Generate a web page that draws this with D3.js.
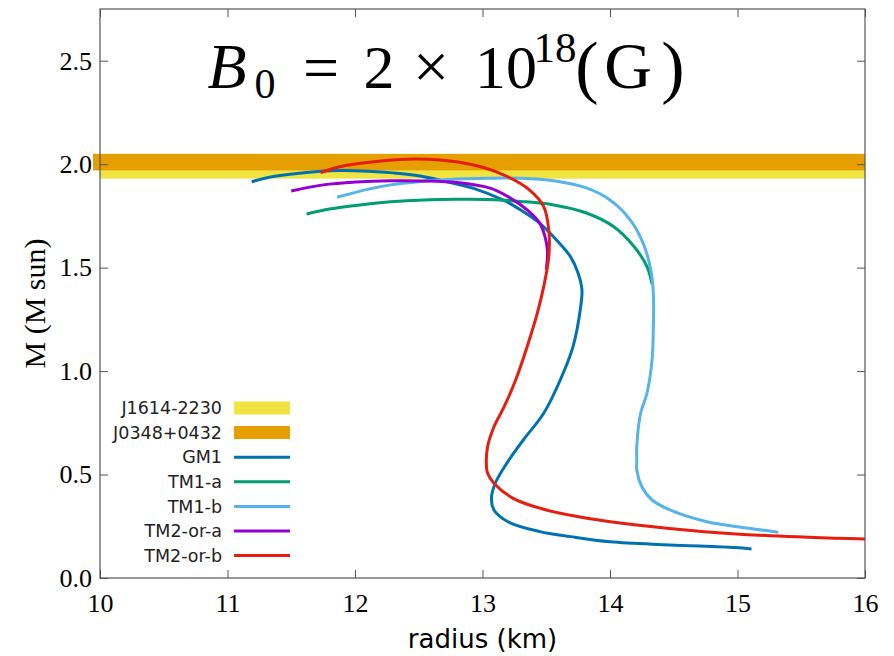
<!DOCTYPE html>
<html>
<head>
<meta charset="utf-8">
<script src="https://cdn.jsdelivr.net/npm/d3@7"></script>
<style>
  body { margin: 0; background: #fff; }
</style>
</head>
<body>
<div id="chart"></div>
<script>
// mass-radius curves, B0 = 2e18 G
var gm1R = [15.11, 14.98, 14.47, 14.0, 13.69, 13.45, 13.2, 13.09, 13.07, 13.1, 13.19, 13.32, 13.48, 13.61, 13.71, 13.77, 13.78, 13.75, 13.69, 13.58, 13.45, 13.3, 13.16, 12.93, 12.77, 12.51, 12.3, 12.1, 11.88, 11.62, 11.36, 11.19];
var gm1M = [0.14, 0.147, 0.16, 0.175, 0.2, 0.224, 0.272, 0.329, 0.385, 0.458, 0.554, 0.667, 0.796, 0.957, 1.118, 1.311, 1.392, 1.473, 1.553, 1.634, 1.714, 1.779, 1.827, 1.883, 1.908, 1.943, 1.958, 1.966, 1.969, 1.96, 1.94, 1.915];

var tm1aR = [14.33, 14.29, 14.19, 14.03, 13.82, 13.56, 13.3, 13.05, 12.8, 12.54, 12.28, 12.02, 11.8, 11.62];
var tm1aM = [1.42, 1.505, 1.601, 1.698, 1.763, 1.803, 1.82, 1.829, 1.83, 1.827, 1.818, 1.802, 1.783, 1.759];

var tm1bR = [15.32, 15.0, 14.76, 14.47, 14.33, 14.25, 14.21, 14.21, 14.21, 14.24, 14.29, 14.33, 14.34, 14.34, 14.32, 14.26, 14.16, 14.0, 13.82, 13.56, 13.3, 13.04, 12.8, 12.54, 12.28, 12.08, 11.86];
var tm1bM = [0.221, 0.248, 0.272, 0.329, 0.377, 0.441, 0.522, 0.57, 0.635, 0.796, 0.893, 1.054, 1.215, 1.376, 1.489, 1.618, 1.73, 1.827, 1.884, 1.92, 1.932, 1.932, 1.928, 1.918, 1.9, 1.876, 1.84];

var tm2aR = [13.5, 13.51, 13.49, 13.45, 13.35, 13.2, 13.06, 12.8, 12.54, 12.28, 12.01, 11.75, 11.5];
var tm2aM = [1.49, 1.58, 1.65, 1.714, 1.779, 1.843, 1.884, 1.911, 1.919, 1.92, 1.914, 1.9, 1.87];

var tm2bR = [16.0, 15.26, 14.74, 14.21, 13.82, 13.48, 13.24, 13.09, 13.04, 13.03, 13.04, 13.09, 13.17, 13.26, 13.35, 13.43, 13.48, 13.52, 13.52, 13.48, 13.37, 13.16, 12.93, 12.67, 12.41, 12.15, 11.88, 11.73];
var tm2bM = [0.188, 0.204, 0.224, 0.256, 0.289, 0.332, 0.385, 0.458, 0.506, 0.554, 0.635, 0.731, 0.828, 0.957, 1.118, 1.28, 1.408, 1.553, 1.682, 1.795, 1.875, 1.95, 1.996, 2.02, 2.024, 2.012, 1.988, 1.959];

// pulsar mass bands [low, high]
var j1614Band = [1.93, 2.01];
var j0348Band = [1.97, 2.05];

var xTicks = [10, 11, 12, 13, 14, 15, 16];
var yTicks = [0.0, 0.5, 1.0, 1.5, 2.0, 2.5];

var seriesNames = ["GM1", "TM1-a", "TM1-b", "TM2-or-a", "TM2-or-b"];
var seriesColors = ["#0072b2", "#009e73", "#56b4e9", "#9400d3", "#e51e10"];
var bandNames = ["J1614-2230", "J0348+0432"];
var bandColors = ["#f0e442", "#e69f00"];

var curves = [
  [gm1R, gm1M],
  [tm1aR, tm1aM],
  [tm1bR, tm1bM],
  [tm2aR, tm2aM],
  [tm2bR, tm2bM]
];

var W = 894, H = 656;
var margin = { top: 9, right: 29, bottom: 78, left: 100 },
  width = W - margin.left - margin.right,
  height = H - margin.top - margin.bottom;

var svg = d3
  .select("#chart")
  .append("svg")
  .attr("width", W)
  .attr("height", H);

var g = svg
  .append("g")
  .attr("transform", "translate(" + margin.left + "," + margin.top + ")");

var x = d3.scaleLinear().domain([10, 16]).range([0, width]);
var y = d3.scaleLinear().domain([0, 2.75]).range([height, 0]);

g.append("clipPath")
  .attr("id", "clip")
  .append("rect")
  .attr("width", width)
  .attr("height", height);

// bands (orange sticks out a bit past the left border, like the original)
g.append("rect")
  .attr("x", x(10))
  .attr("width", x(16) - x(10))
  .attr("y", y(j1614Band[1]))
  .attr("height", y(j1614Band[0]) - y(j1614Band[1]))
  .attr("fill", bandColors[0]);

g.append("rect")
  .attr("x", x(9.945))
  .attr("width", x(16) - x(9.945))
  .attr("y", y(j0348Band[1]))
  .attr("height", y(j0348Band[0]) - y(j0348Band[1]))
  .attr("fill", bandColors[1]);

// curves
var line = d3
  .line()
  .x(function (d) { return x(d[0]); })
  .y(function (d) { return y(d[1]); })
  .curve(d3.curveCatmullRom.alpha(0.5));

var lines = g.append("g").attr("clip-path", "url(#clip)");
curves.forEach(function (c, i) {
  var pts = c[0].map(function (r, k) { return [r, c[1][k]]; });
  lines
    .append("path")
    .datum(pts)
    .attr("d", line)
    .attr("fill", "none")
    .attr("stroke", seriesColors[i])
    .attr("stroke-width", 3)
    .attr("stroke-linejoin", "round");
});

// axes, gnuplot style: ticks inside, mirrored
var axisColor = "#555";
function styleAxis(sel) {
  sel.select(".domain").remove();
  sel.selectAll(".tick line").attr("stroke", axisColor);
  sel.selectAll(".tick text")
    .attr("fill", "#000")
    .attr("font-family", "Liberation Serif, serif")
    .attr("font-size", 26);
}

g.append("g")
  .attr("transform", "translate(0," + height + ")")
  .call(d3.axisBottom(x).tickValues(xTicks).tickFormat(d3.format("d")).tickSizeInner(-8).tickSizeOuter(0).tickPadding(16))
  .call(styleAxis);

g.append("g")
  .call(d3.axisTop(x).tickValues(xTicks).tickFormat("").tickSizeInner(-8).tickSizeOuter(0))
  .call(styleAxis);

g.append("g")
  .call(d3.axisLeft(y).tickValues(yTicks).tickFormat(d3.format(".1f")).tickSizeInner(-8).tickSizeOuter(0).tickPadding(8))
  .call(styleAxis);

g.append("g")
  .attr("transform", "translate(" + width + ",0)")
  .call(d3.axisRight(y).tickValues(yTicks).tickFormat("").tickSizeInner(-8).tickSizeOuter(0))
  .call(styleAxis);

g.append("rect")
  .attr("width", width)
  .attr("height", height)
  .attr("fill", "none")
  .attr("stroke", axisColor)
  .attr("stroke-width", 1.2);

// axis titles
svg.append("text")
  .attr("x", margin.left + width / 2)
  .attr("y", 648)
  .attr("text-anchor", "middle")
  .attr("font-family", "DejaVu Sans, sans-serif")
  .attr("font-size", 26)
  .text("radius (km)");

svg.append("text")
  .attr("transform", "translate(45," + (margin.top + height / 2 + 10) + ") rotate(-90)")
  .attr("text-anchor", "middle")
  .attr("font-family", "Liberation Serif, serif")
  .attr("font-size", 30)
  .text("M (M sun)");

// title  B_0 = 2 x 10^18 (G), each glyph group placed by its centre
var titleParts = [
  { t: "B", cx: 227, base: 88, size: 64, italic: true },
  { t: "0", cx: 265, base: 98, size: 42 },
  { t: "=", cx: 321, base: 89, size: 64 },
  { t: "2", cx: 379, base: 88, size: 62 },
  { t: "\u00d7", cx: 431, base: 88, size: 64 },
  { t: "10", cx: 506, base: 88, size: 62 },
  { t: "18", cx: 555, base: 62, size: 43 },
  { t: "(", cx: 587, base: 90, size: 70 },
  { t: "G", cx: 628, base: 88, size: 66 },
  { t: ")", cx: 673, base: 90, size: 70 }
];
var title = svg.append("g").attr("font-family", "Liberation Serif, serif").attr("fill", "#000");
titleParts.forEach(function (p) {
  title.append("text")
    .attr("x", p.cx)
    .attr("y", p.base)
    .attr("text-anchor", "middle")
    .attr("font-size", p.size)
    .attr("font-style", p.italic ? "italic" : "normal")
    .text(p.t);
});

// legend
var legendItems = bandNames.map(function (n, i) {
  return { name: n, color: bandColors[i], w: 13 };
}).concat(seriesNames.map(function (n, i) {
  return { name: n, color: seriesColors[i], w: 3 };
}));

var legend = svg.append("g").attr("transform", "translate(222,408)");
legendItems.forEach(function (d, i) {
  var row = legend.append("g").attr("transform", "translate(0," + i * 24.6 + ")");
  row.append("text")
    .attr("x", 0)
    .attr("dy", "0.35em")
    .attr("text-anchor", "end")
    .attr("font-family", "DejaVu Sans, sans-serif")
    .attr("font-size", 17.5)
    .attr("fill", "#222")
    .text(d.name);
  row.append("line")
    .attr("x1", 12)
    .attr("x2", 68)
    .attr("stroke", d.color)
    .attr("stroke-width", d.w);
});
</script>
</body>
</html>
